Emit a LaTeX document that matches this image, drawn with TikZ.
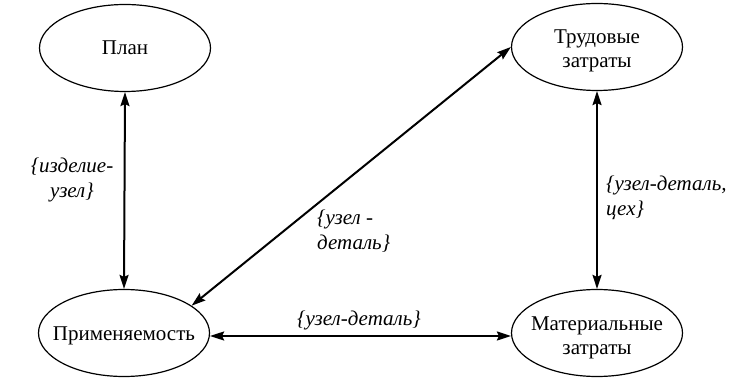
\documentclass[tikz,border=0pt]{standalone}
\usepackage{fontspec}
\setmainfont{LiberationSerif}[Extension=.ttf,UprightFont=*-Regular,ItalicFont=*-Italic,BoldFont=*-Bold]
\usetikzlibrary{shapes.geometric,arrows.meta}
\begin{document}
\begin{tikzpicture}[x=1pt,y=1pt,
  oval/.style={draw,ellipse,line width=1.2pt,minimum width=171pt,minimum height=87pt,inner sep=0pt},
  txt/.style={align=center,font=\fontsize{21}{24}\selectfont,inner sep=0pt},
  lbl/.style={font=\fontsize{21}{25}\selectfont\itshape,inner sep=0pt},
  conn/.style={line width=2pt,{Stealth[length=14pt,width=9pt,inset=2pt]}-{Stealth[length=14pt,width=9pt,inset=2pt]}}
]
\useasboundingbox (0,0) rectangle (751,377);
\node[oval] (plan) at (125,329) {};
\node[oval] (app) at (124,44) {};
\node[oval] (trud) at (597,330) {};
\node[oval] (mat) at (597,44) {};
\node[txt] (plant) at (plan) {План};
\node[txt] (appt) at ([yshift=-3pt]app.center) {Применяемость};
\node[txt] (trudt) at ([yshift=-4pt]trud.center) {Трудовые\\затраты};
\node[txt] (matt) at ([yshift=-5pt]mat.center) {Материальные\\затраты};
\draw[conn] (plan.south) -- (app.north);
\draw[conn] (trud.south) -- (mat.north);
\draw[conn] ([yshift=-3pt]app.east) -- ([yshift=-3pt]mat.west);
\draw[conn] (app.22) -- (trud.west);
\node[lbl,align=center] (l1) at (72,197) {\{изделие-\\узел\}};
\node[lbl,align=left,anchor=west] (l2) at (606,179) {\{узел-деталь,\\цех\}};
\node[lbl,align=left,anchor=west] (l3) at (317,146) {\{узел -\\деталь\}};
\node[lbl] (l4) at (359,57) {\{узел-деталь\}};
\end{tikzpicture}
\end{document}
